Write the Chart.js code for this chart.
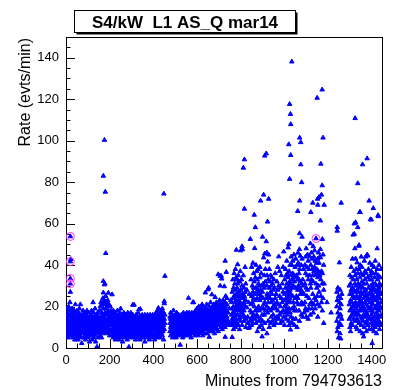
<!DOCTYPE html>
<html>
<head>
<meta charset="utf-8">
<script src="https://cdn.jsdelivr.net/npm/chart.js@4.4.1/dist/chart.umd.min.js"></script>
<style>
  html, body { margin: 0; padding: 0; background: #fff; }
  #wrap { width: 396px; height: 390px; }
</style>
</head>
<body>
<div id="wrap"><canvas id="rateChart" width="396" height="390"></canvas></div>
<script>
// Labels
const chartTitle = "S4/kW  L1 AS_Q mar14";
const xTitle = "Minutes from 794793613";
const yTitle = "Rate (evts/min)";
const xTicks = [0, 200, 400, 600, 800, 1000, 1200, 1400];
const yTicks = [0, 20, 40, 60, 80, 100, 120, 140];

// [minute, [rates at that minute]]
const nightRates = [
  [1, [6, 9, 12, 15]], [3, [19, 11, 7]], [6, [14, 8, 17, 10]], [9, [5, 12, 16]],
  [12, [9, 20, 7, 13]], [15, [11, 6, 18]], [18, [15, 9, 22, 12]], [20, [27, 16]],
  [22, [42.8, 13, 8]], [25, [10, 17, 6, 14]], [28, [12, 7, 19]], [31, [9, 15, 5, 11]],
  [34, [16, 8, 13]], [37, [6, 11, 18, 14]], [40, [10, 4, 15]], [43, [21, 12, 8, 17]],
  [46, [7, 14, 10]], [49, [13, 5, 18, 9]], [52, [11, 16, 7]], [55, [8, 12, 15, 4]],
  [58, [17, 10, 6]], [61, [9, 14, 12, 19]], [64, [6, 11, 16]], [66, [21, 13, 8]],
  [69, [10, 5, 15, 12]], [72, [14, 2.3, 9]], [75, [7, 16, 11, 13]], [78, [12, 8, 18]],
  [81, [5, 10, 14, 9]], [84, [15, 7, 12]], [87, [11, 17, 6, 13]], [90, [9, 4, 14]],
  [93, [16, 10, 7, 12]], [96, [8, 13, 18]], [99, [11, 6, 15, 9]], [102, [14, 10, 5]],
  [105, [7, 12, 17, 9]], [108, [13, 3, 10]], [111, [9, 15, 6, 12]], [114, [16, 11, 8]],
  [117, [6, 13, 10, 18]], [120, [12, 4, 15]], [124, [22, 9, 14, 7]], [127, [11, 17, 5]],
  [130, [8, 13, 10, 15]], [133, [14, 6, 19]], [136, [10, 12, 3, 8]], [139, [16, 9, 13]],
  [142, [0.6, 11, 7, 14]], [145, [12, 17, 9]], [148, [5, 10, 15, 13]], [151, [8, 14, 11]],
  [154, [18, 7, 12, 9]], [157, [13, 20, 6]], [160, [10, 15, 8, 22]], [163, [12, 17, 5]],
  [166, [9, 14, 21, 11]], [169, [16, 24, 7, 12]], [171, [83, 32.2, 26.7, 19]], [173, [13, 9, 22, 15]],
  [176, [100.3, 30.6, 23, 10]], [178, [31, 17, 12, 8]], [180, [75.3, 21, 14]], [182, [45.7, 19, 11, 25]],
  [185, [16, 9, 22, 13]], [188, [12, 20, 7, 17]], [191, [23, 14, 10]], [194, [26.6, 18, 11, 8]],
  [197, [15, 21, 12]], [200, [9, 13, 17, 6]], [203, [20, 11, 15]], [206, [8, 14, 18, 12]],
  [209, [16, 6, 11]], [211, [25.8, 13, 9, 17]], [214, [7, 12, 15]], [217, [14, 10, 5, 18]],
  [220, [11, 16, 8]], [223, [6, 13, 10, 15]], [226, [12, 17, 4]], [229, [9, 14, 11, 7]],
  [232, [15, 6, 12]], [235, [10, 18, 13, 8]], [238, [5, 11, 15]], [241, [13, 9, 16, 7]],
  [244, [11, 4, 14]], [247, [17, 8, 12, 10]], [250, [6, 19, 13]], [253, [14, 9, 11, 5]],
  [256, [10, 15, 7]], [259, [12, 3, 16, 9]], [262, [8, 13, 11]], [265, [15, 6, 10, 17]],
  [268, [11, 14, 8]], [271, [7, 12, 16, 5]], [274, [13, 9, 10]], [277, [16, 6, 12, 14]],
  [280, [9, 11, 4]], [283, [14, 17, 8, 12]], [286, [6, 10, 13]], [288, [0.5, 15, 11, 7]],
  [291, [12, 9, 16]], [294, [8, 14, 5, 11]], [297, [13, 10, 17]], [300, [7, 12, 15, 9]],
  [303, [11, 6, 14]], [306, [20.8, 9, 13, 16]], [309, [12, 5, 10]], [312, [20.8, 15, 8, 11]],
  [315, [7, 13, 10]], [318, [14, 4, 12, 9]], [321, [10, 16, 6]], [324, [13, 8, 11, 15]],
  [327, [5, 12, 9]], [330, [11, 14, 7, 17]], [333, [18.5, 9, 12]], [336, [6, 13, 10, 15]],
  [339, [12, 8, 4]], [340, [18.8, 11, 14]], [343, [9, 15, 7, 12]], [346, [13, 5, 10]],
  [349, [8, 16, 11, 14]], [352, [12, 7, 9]], [355, [15, 10, 13, 5]], [358, [9, 12, 6]],
  [361, [14, 3, 11, 16]], [364, [10, 8, 13]], [367, [6, 12, 15, 9]], [370, [13, 10, 7]],
  [373, [11, 16, 5, 14]], [376, [8, 12, 10]], [379, [15, 6, 13, 9]], [382, [11, 14, 4]],
  [385, [7, 10, 16, 12]], [388, [13, 9, 6]], [391, [10, 15, 12, 8]], [394, [14, 5, 11]],
  [397, [9, 13, 7, 16]], [400, [12, 10, 15]], [403, [6, 14, 9, 11]], [406, [13, 4, 16]],
  [409, [10, 12, 7, 15]], [412, [8, 17, 11]], [415, [14, 6, 13, 9]], [418, [11, 16, 5]],
  [421, [15, 9, 12, 18]], [423, [19.3, 7, 13]], [426, [10, 14, 6, 17]], [429, [12, 8, 15]],
  [432, [16, 11, 5, 13]], [435, [9, 14, 18]], [438, [13, 7, 11, 16]], [441, [6, 12, 19]],
  [444, [15, 10, 8, 13]], [447, [11, 17, 4]], [448, [74.4]], [450, [22.5, 21.5, 14, 9]],
  [453, [34.7, 12, 16]]
];

const morningRates = [
  [476, [12, 8, 15]], [479, [10, 14, 6, 17]], [482, [13, 9, 11]], [485, [7, 15, 12, 10]],
  [488, [16, 5, 11]], [492, [18.1, 9, 13, 7]], [495, [12, 15, 10]], [498, [8, 14, 6, 11]],
  [501, [13, 10, 16]], [504, [5, 12, 9, 14]], [507, [11, 17, 7]], [510, [14, 8, 12, 10]],
  [513, [9, 13, 6]], [516, [15, 11, 16, 8]], [519, [12, 7, 10]], [523, [1.5, 13, 9, 15]],
  [526, [10, 14, 6]], [529, [16, 8, 12, 11]], [532, [7, 13, 9]], [535, [12, 15, 5, 10]],
  [538, [14, 9, 17]], [541, [8, 11, 13, 6]], [544, [15, 10, 12]], [547, [9, 14, 7, 16]],
  [550, [11, 6, 13]], [553, [17, 10, 8, 14]], [556, [12, 15, 9]], [559, [7, 11, 16, 13]],
  [561, [24.1, 10, 14]], [564, [8, 12, 17, 6]], [567, [14, 9, 11]], [570, [13, 16, 7, 10]],
  [573, [11, 5, 15]], [576, [9, 14, 12, 17]], [579, [16, 8, 11]], [581, [22, 13, 10, 7]],
  [584, [22, 12, 15]], [587, [10, 17, 8, 13]], [590, [14, 6, 11]], [593, [12, 18, 9, 15]],
  [596, [8, 13, 16]], [599, [15, 10, 19, 7]], [602, [11, 14, 12]], [605, [17, 9, 6, 13]],
  [608, [13, 20, 10]], [611, [8, 15, 12, 18]], [614, [16, 11, 7]], [617, [12, 19, 14, 9]],
  [620, [10, 15, 17]], [623, [14, 8, 21, 12]], [626, [18, 11, 6]], [629, [13, 16, 9, 20]],
  [632, [11, 14, 18]], [635, [7, 17, 12, 15]], [638, [26.7, 13, 10]], [641, [16, 9, 19, 12]],
  [644, [14, 21, 11]], [647, [10, 17, 7, 15]], [650, [28.2, 13, 18]], [653, [29, 12, 16, 9]],
  [656, [5.3, 15, 20, 11]], [659, [18, 13, 8]], [662, [14, 22, 10, 17]], [665, [12, 16, 19]],
  [668, [25.8, 11, 14, 8]], [671, [17, 20, 13]], [674, [9, 15, 18, 12]], [677, [21, 11, 16]],
  [680, [14, 19, 7, 13]], [683, [24.5, 12, 17]], [686, [10, 16, 20, 14]], [689, [18, 13, 22]],
  [692, [12, 15, 9, 19]], [695, [16, 21, 11]], [697, [35.5, 14, 18, 8]], [700, [13, 20, 16]],
  [703, [17, 11, 23, 14]], [706, [34.7, 30, 19, 12]], [709, [15, 22, 10]], [711, [34.7, 18, 13, 16]],
  [713, [33.4, 12, 21]], [716, [20, 14, 17, 9]], [719, [16, 23, 12]], [722, [13, 19, 15, 21]],
  [725, [29.7, 17, 11]], [728, [22, 14, 18, 10]], [729, [42, 5.3, 16]], [731, [25, 13, 20, 15]],
  [734, [36.6, 18, 12]], [737, [21, 15, 24, 11]], [742, [17, 13]], [748, [19, 12]],
  [754, [23, 11]]
];

const afternoonRates = [
  [758, [16, 22, 12]], [761, [5.2, 19, 27, 14]], [764, [24, 11, 33, 17]], [767, [20, 29, 13, 9]],
  [770, [36, 18, 25, 15]], [773, [22, 31, 12, 19]], [776, [28, 16, 38, 10]], [779, [23, 34, 14, 20]],
  [780, [47.3, 26, 18]], [783, [33, 21, 12, 29]], [786, [40.3, 25, 16, 31]], [789, [19, 35, 23, 11]],
  [792, [27, 14, 21]], [795, [32, 18, 25, 9]], [798, [22, 37, 15]], [800, [47, 28, 20, 13]],
  [803, [24, 33, 17]], [806, [49, 30, 19, 11]], [808, [47.6, 26, 21]], [812, [86.9, 35, 16, 24]],
  [815, [29, 18, 22, 13]], [817, [90.9, 67.1, 25, 15]], [820, [39, 20, 27]], [823, [31, 14, 23, 10]],
  [828, [28, 19.5]], [832, [15, 12]], [836, [9.6, 22]], [840, [10, 26]], [844, [52.5, 18, 13]],
  [847, [33, 21, 14]], [850, [39, 25, 17, 11]], [853, [30, 22, 15]], [856, [27, 41, 12]],
  [859, [36, 24, 16, 29]], [862, [64.2, 32, 20]], [864, [48.1, 26, 14]], [867, [58.2, 34, 23, 18]],
  [870, [29, 40, 12]], [873, [37, 27, 16]], [876, [24, 33, 19, 8]], [879, [38, 28, 15]],
  [882, [31, 20, 13]], [885, [26, 18, 30, 10]], [888, [34, 23, 39]], [891, [71, 28, 14]],
  [894, [25, 36, 19, 11]], [898, [5.5, 30, 16]], [900, [53.6, 27, 13]], [903, [24, 19, 31, 9]],
  [905, [73.9, 43.6, 21]], [908, [29, 35, 16]], [910, [92.7, 45.5, 22, 12]], [913, [32, 18, 38]],
  [917, [93.8, 51.4, 24]], [920, [46, 30, 20, 7]], [921, [26, 35]], [923, [60.9, 41.6, 17]],
  [926, [33, 22, 13]], [928, [71.9, 45, 25, 19]], [931, [29, 38, 10]], [934, [24, 32]],
  [937, [35, 18, 27, 12]], [940, [30, 22, 15]], [943, [26, 34, 19]], [946, [23, 31, 13]],
  [949, [28, 20, 16]], [952, [33, 11]], [955, [21, 29]], [958, [36, 24, 14]],
  [962, [26, 19, 12]], [966, [32, 15, 22]], [970, [39, 28, 18]], [974, [44.1, 21, 14, 30]],
  [978, [25, 37, 16]], [982, [29, 12, 20]], [986, [35, 24, 17]], [990, [22, 31, 13]],
  [994, [27, 18, 39]], [997, [46.5, 23, 15]], [1001, [33, 26, 20, 11]], [1005, [29, 38, 17]],
  [1008, [24, 35, 14, 21]], [1011, [31, 19, 42, 27]], [1014, [36, 23, 16, 29]], [1017, [48.4, 34, 25, 18]],
  [1020, [98.2, 50.1, 30, 22, 13]], [1022, [27, 37, 19, 11]], [1024, [117.6, 81.5, 32, 24]],
  [1026, [40, 28, 17]], [1028, [112.8, 8.8, 31, 22]], [1029, [107.9, 93, 26]], [1031, [35, 44, 15]],
  [1034, [138.1, 29, 40]], [1036, [33, 19, 12]], [1038, [42, 25, 36]], [1041, [30, 22, 14]],
  [1044, [35, 20, 45]], [1046, [32, 18, 11]], [1049, [39, 24, 34]], [1052, [29, 43, 14]],
  [1055, [35, 25, 18]], [1058, [40, 22, 10]], [1061, [66, 33, 28]], [1062, [45.9, 24]],
  [1064, [30, 21, 41]], [1067, [36, 18, 33]], [1069, [47.6, 29, 13]], [1070, [101.4, 71, 55.3, 38]],
  [1073, [44.4, 26, 32]], [1075, [99.2, 88.5, 21]], [1077, [28, 40, 16]], [1079, [79.9, 31, 22]],
  [1081, [53.6, 27, 43]], [1084, [33, 15]], [1087, [38, 21, 30]], [1090, [26, 17]],
  [1094, [31, 22, 40]], [1097, [36, 19, 44]], [1100, [29, 48, 15]], [1103, [39, 25, 18]],
  [1106, [45, 28, 35]], [1109, [33, 42, 14]], [1112, [38, 24, 19]], [1116, [44.1, 35, 21]],
  [1119, [50.4, 31, 16]], [1121, [65.5, 40, 29]], [1124, [33, 46, 22]], [1127, [38, 19, 43]],
  [1130, [70, 35, 26]], [1132, [49, 32, 17]], [1135, [44, 37, 21]], [1138, [39, 47, 24]],
  [1141, [35, 42, 19]], [1145, [31, 23]], [1148, [38, 29, 41]], [1150, [120.6, 36, 25]],
  [1152, [71.9, 43, 21]], [1153, [69, 34, 15]], [1156, [30, 46, 37]], [1159, [72.8, 41, 27]],
  [1162, [35, 44, 20]], [1165, [61.4, 47.6, 43.6]], [1167, [88.8, 33, 25]], [1170, [73.9, 37, 22]],
  [1173, [124.6, 78.4, 31]], [1174, [52.5, 36, 18]], [1177, [101.4, 45, 24]], [1180, [40, 28, 12]],
  [1182, [69, 31]], [1195, [22]], [1214, [17]],
  [1240, [27, 13, 20]], [1242, [58.2, 56.5, 23, 8]], [1245, [29, 17, 10]], [1248, [25, 5, 15]],
  [1252, [41.2, 22, 12]], [1255, [19, 28, 7]], [1258, [16, 24, 4.5]], [1260, [70, 21, 11]],
  [1263, [26, 14]]
];

const eveningRates = [
  [1297, [21, 14, 30]], [1300, [26, 18, 10, 35]], [1303, [23, 31, 15, 8]], [1306, [28, 19, 12, 39]],
  [1309, [34, 22, 16, 26]], [1312, [20, 29, 11, 43]], [1315, [54.6, 25, 17, 33]], [1318, [37, 21, 14, 28]],
  [1320, [60, 55, 24, 18]], [1323, [48, 31, 20, 13]], [1324, [110.8, 35, 27]], [1326, [60.6, 43.1, 22, 16]],
  [1329, [30, 38, 19, 10]], [1331, [25, 33, 14, 21]], [1333, [41.2, 28, 17, 9]], [1336, [79.4, 58.2, 24, 36]],
  [1338, [31, 20, 13, 27]], [1341, [49.2, 38, 22, 16]], [1342, [49.6, 29, 12]], [1345, [65.5, 34, 25, 18]],
  [1347, [65.5, 40, 21, 8]], [1350, [30, 23, 15, 36]], [1352, [27, 44, 19, 11]], [1355, [32, 22, 14, 39]],
  [1358, [88.5, 26, 18, 7]], [1360, [35, 29, 20, 13]], [1363, [5.5, 24, 31, 16]], [1366, [42, 27, 19, 10]],
  [1369, [33, 22, 15, 37]], [1372, [44, 28, 18, 12]], [1375, [25, 36, 21, 8]], [1377, [31, 17, 26, 13]],
  [1379, [91.4, 45, 23, 16]], [1382, [44.5, 34, 20, 11]], [1385, [29, 38, 15, 24]], [1388, [71, 26, 19, 9]],
  [1391, [33, 41, 22, 14]], [1394, [62, 27, 18, 35]], [1396, [24, 30, 12, 20]], [1398, [61.9, 37, 16, 28]],
  [1400, [22, 33, 9, 18]], [1402, [2.3, 26, 40, 14]], [1405, [31, 21, 11, 36]], [1407, [67.4, 25, 17, 29]],
  [1410, [39, 23, 13, 8]], [1413, [28, 34, 19, 15]], [1416, [24, 42, 10, 31]], [1419, [36, 20, 27, 12]],
  [1422, [30, 17, 23, 7]], [1425, [48, 38, 25, 14]], [1427, [33, 21, 16, 28]], [1429, [64, 26, 19, 11]],
  [1430, [63.5, 35, 22]], [1433, [29, 18, 40, 13]], [1436, [24, 31, 15, 9]], [1439, [27, 20, 34, 12]],
  [1442, [22, 30, 16, 38]], [1445, [19, 26, 11]]
];

// points marked with magenta circles
const flaggedPoints = [[20, 53.8], [20, 41.7], [20, 33.5], [20, 31], [1145, 52.8]];

function toPoints(list) {
  return list.flatMap(([minute, rates]) => rates.map((r) => ({ x: minute, y: r })));
}

const ratePoints = [nightRates, morningRates, afternoonRates, eveningRates].flatMap(toPoints);
// flagged points also carry a triangle underneath
const flaggedTriangles = flaggedPoints.map(([m, r]) => ({ x: m, y: r }));

const labelFont = { family: "'Liberation Sans', Arial, Helvetica, sans-serif", size: 13 };

// ROOT-like frame: box, inward ticks, titles
const rootFrame = {
  id: "rootFrame",
  beforeDraw(chart) {
    const ctx = chart.ctx;
    ctx.save();
    ctx.fillStyle = "#fff";
    ctx.fillRect(0, 0, chart.width, chart.height);
    ctx.restore();
  },
  beforeDatasetsDraw(chart) {
    const { ctx, chartArea: a, scales } = chart;
    ctx.save();
    ctx.strokeStyle = "#000";
    ctx.lineWidth = 1;
    ctx.beginPath();
    for (let v = 0; v <= scales.x.max; v += 50) {
      const px = Math.round(scales.x.getPixelForValue(v)) + 0.5;
      const len = v % 200 === 0 ? 9 : 4.5;
      ctx.moveTo(px, a.bottom);
      ctx.lineTo(px, a.bottom - len);
    }
    for (let v = 0; v <= scales.y.max; v += 5) {
      const py = Math.round(scales.y.getPixelForValue(v)) + 0.5;
      const len = v % 20 === 0 ? 9 : 4.5;
      ctx.moveTo(a.left, py);
      ctx.lineTo(a.left + len, py);
    }
    ctx.stroke();
    ctx.strokeRect(Math.round(a.left) + 0.5, Math.round(a.top) + 0.5,
      Math.round(a.right - a.left), Math.round(a.bottom - a.top));
    ctx.restore();
  },
  afterDraw(chart) {
    const ctx = chart.ctx;
    ctx.save();
    ctx.fillStyle = "#000";

    // x title, right aligned
    ctx.font = "16px 'Liberation Sans', Arial, sans-serif";
    ctx.textAlign = "right";
    ctx.textBaseline = "alphabetic";
    ctx.fillText(xTitle, 382, 386);

    // y title, rotated, right aligned to top
    ctx.save();
    ctx.translate(30, 38);
    ctx.rotate(-Math.PI / 2);
    ctx.fillText(yTitle, 0, 0);
    ctx.restore();

    // title box with shadow
    const bx = 74.5, by = 10.5, bw = 221, bh = 22;
    ctx.fillStyle = "#000";
    ctx.fillRect(bx + 2, by + 2, bw, bh);
    ctx.fillStyle = "#fff";
    ctx.fillRect(bx, by, bw, bh);
    ctx.strokeStyle = "#000";
    ctx.lineWidth = 1;
    ctx.strokeRect(bx, by, bw, bh);
    ctx.fillStyle = "#000";
    ctx.font = "bold 17px 'Liberation Sans', Arial, sans-serif";
    ctx.textAlign = "center";
    ctx.fillText(chartTitle, bx + bw / 2, 27.5);
    ctx.restore();
  }
};

const ctx = document.getElementById("rateChart").getContext("2d");
const rateChart = new Chart(ctx, {
  type: "scatter",
  data: {
    datasets: [
      {
        label: "flagged",
        data: flaggedPoints.map(([m, r]) => ({ x: m, y: r })),
        pointStyle: "circle",
        pointRadius: 4,
        backgroundColor: "rgba(0,0,0,0)",
        borderColor: "#ff33ff",
        borderWidth: 1
      },
      {
        label: "rate",
        data: ratePoints.concat(flaggedTriangles),
        pointStyle: "triangle",
        pointRadius: 2.6,
        backgroundColor: "#0000ff",
        borderColor: "#0000ff",
        borderWidth: 1
      }
    ]
  },
  options: {
    responsive: false,
    animation: false,
    devicePixelRatio: 1,
    events: [],
    layout: { padding: { top: 37, right: 14, left: 0, bottom: 0 } },
    plugins: {
      legend: { display: false },
      tooltip: { enabled: false },
      title: { display: false }
    },
    scales: {
      x: {
        type: "linear",
        min: 0,
        max: 1447,
        grid: { display: false, drawTicks: false },
        border: { display: false },
        afterBuildTicks: (axis) => { axis.ticks = xTicks.map((v) => ({ value: v })); },
        afterFit: (axis) => { axis.height = 42; },
        ticks: {
          color: "#000", font: labelFont, padding: 5, maxRotation: 0, autoSkip: false,
          callback: (v) => String(v)
        }
      },
      y: {
        type: "linear",
        min: 0,
        max: 150,
        grid: { display: false, drawTicks: false },
        border: { display: false },
        afterBuildTicks: (axis) => { axis.ticks = yTicks.map((v) => ({ value: v })); },
        afterFit: (axis) => { axis.width = 66; },
        ticks: { color: "#000", font: labelFont, padding: 7, autoSkip: false, callback: (v) => String(v) }
      }
    }
  },
  plugins: [rootFrame]
});
</script>
</body>
</html>
